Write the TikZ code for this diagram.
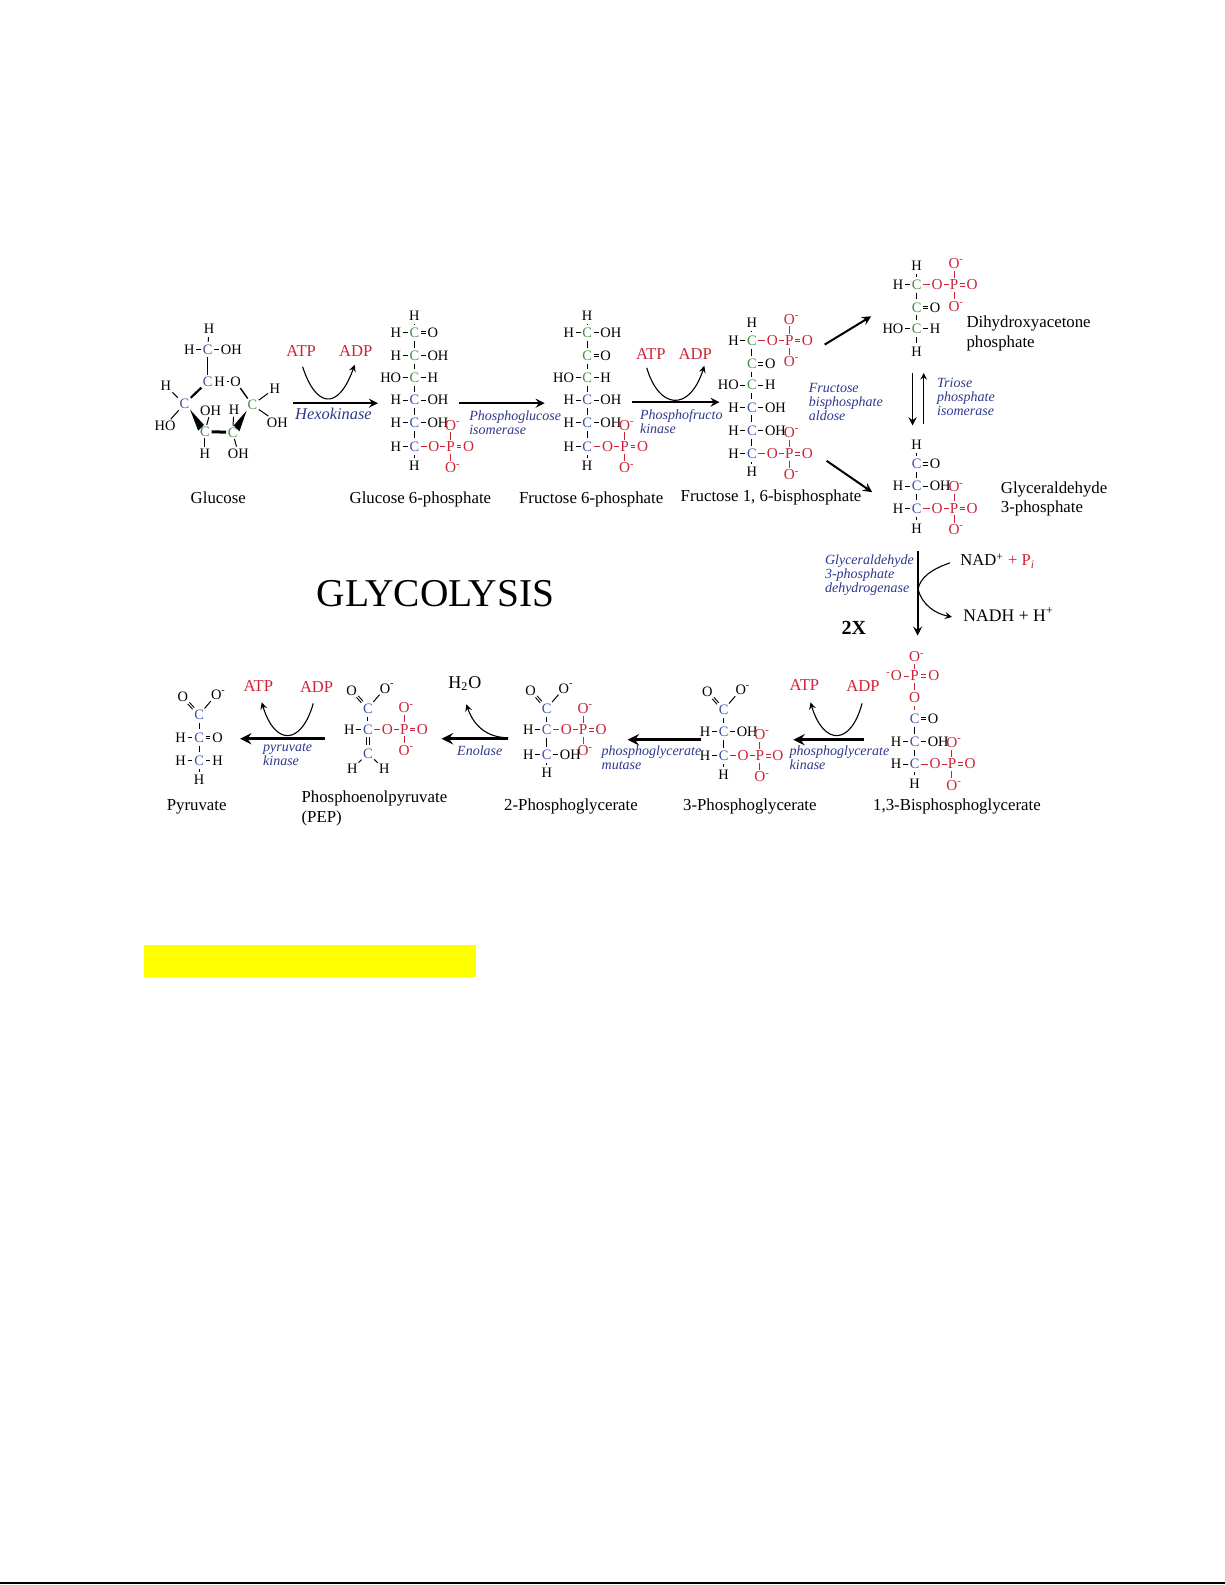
\documentclass[tikz,border=0pt]{standalone}
\usepackage{xcolor}
\usepackage{fontspec}
\setmainfont{Liberation Serif}

\definecolor{atomgreen}{RGB}{65,140,70}
\definecolor{atomblue}{RGB}{60,80,170}
\definecolor{atomred}{RGB}{205,35,55}
\definecolor{enzymeblue}{RGB}{45,55,140}
\definecolor{markyellow}{RGB}{255,255,0}

\tikzset{
	atom/.style={font=\fontsize{7.2}{8}\selectfont, inner sep=0.3pt, text height=4.8pt, text depth=0pt},
	redatom/.style={atom, font=\fontsize{7.6}{8}\selectfont, text=atomred},
	bond/.style={line width=0.5pt, shorten >=0.4pt, shorten <=0.4pt},
	vbond/.style={bond, shorten >=1.2pt, shorten <=1.2pt},
	compound/.style={font=\fontsize{8.4}{9.6}\selectfont, inner sep=0pt, align=left},
	enzyme/.style={font=\fontsize{7}{6.9}\selectfont\itshape, text=enzymeblue, inner sep=0pt, anchor=west, align=left},
	cofactor/.style={font=\fontsize{8.3}{9}\selectfont, text=atomred, inner sep=0pt},
	rxn/.style={-stealth, line width=1pt},
	heavyrxn/.style={-stealth, line width=1.5pt},
	swing/.style={-stealth, line width=0.55pt}
}

\newcommand{\minusO}{O\rlap{\textsuperscript{-}}}
% double bond: colour, two nodes, canvas offset
\newcommand{\dbl}[5]{
	\draw[bond, #1, line width=0.45pt, transform canvas={shift={(#4,#5)}}] (#2) -- (#3);
	\draw[bond, #1, line width=0.45pt, transform canvas={shift={(-#4,-#5)}}] (#2) -- (#3);
}
\newcommand{\carbon}[4]{\node[atom, text=#4] (#1) at (#2,#3) {C};}
\newcommand{\subL}[2]{\node[atom, anchor=base east] (#1L) at ([xshift=-3.2pt]#1.base west) {#2}; \draw[bond] (#1L) -- (#1);}
\newcommand{\subR}[2]{\node[atom, anchor=base west] (#1R) at ([xshift=3.2pt]#1.base east) {#2}; \draw[bond] (#1R) -- (#1);}
\newcommand{\subO}[1]{\node[atom, anchor=base west] (#1R) at ([xshift=3.2pt]#1.base east) {O}; \dbl{black}{#1R}{#1}{0pt}{0.6pt}}
\newcommand{\capH}[4]{\node[atom] (#1) at (#2,#3) {H}; \draw[vbond] (#1) -- (#4);}
% phosphate on carbon #1, with P at (#2,#3)
\newcommand{\phos}[3]{
	\node[redatom] (#1P) at (#2,#3) {P};
	\node[redatom] (#1O) at ([xshift=-8.4pt]#1P.center) {O};
	\node[redatom] (#1E) at ([xshift=9pt]#1P.center) {O};
	\node[redatom] (#1U) at ([yshift=10.6pt]#1P.center) {\minusO};
	\node[redatom] (#1D) at ([yshift=-10.6pt]#1P.center) {\minusO};
	\draw[bond, atomred] (#1) -- (#1O);
	\draw[bond, atomred, shorten >=0pt, shorten <=0pt] (#1O) -- (#1P);
	\dbl{atomred}{#1P}{#1E}{0pt}{0.6pt}
	\draw[vbond, atomred, shorten >=0.6pt, shorten <=0.6pt] (#1P) -- (#1U);
	\draw[vbond, atomred, shorten >=0.6pt, shorten <=0.6pt] (#1P) -- (#1D);
}
% carboxylate on carbon #1
\newcommand{\carboxy}[1]{
	\node[atom] (#1O) at ([shift={(-16,-18)}]#1.center) {O};
	\node[atom] (#1M) at ([shift={(17,-20)}]#1.center) {\minusO};
	\dbl{black}{#1O}{#1}{0.42pt}{0.38pt}
	\draw[bond] (#1M) -- (#1);
}

\begin{document}
\begin{tikzpicture}[x=0.505pt, y=-0.505pt]
	\useasboundingbox (0,0) rectangle (1212,1568.4);

	%Glucose
	\carbon{gluSix}{205.5}{346.3}{atomblue}
	\subL{gluSix}{H} \subR{gluSix}{OH}
	\capH{gluSixH}{206.8}{325.5}{gluSix}
	\carbon{gluFive}{205.5}{377.6}{atomblue}
	\node[atom, anchor=base west] (gluFiveH) at (gluFive.base east) {H};
	\node[atom] (gluRingO) at (233.2,377.6) {O};
	\carbon{gluOne}{249.7}{400.7}{atomgreen}
	\carbon{gluFour}{182.4}{399.7}{atomblue}
	\carbon{gluThree}{202.8}{427.1}{atomgreen}
	\carbon{gluTwo}{230.2}{427.8}{atomgreen}
	\node[atom] (gluOneH) at (272,384.2) {H};
	\node[atom] (gluOneOH) at (274.4,417.9) {OH};
	\node[atom] (gluFourH) at (164.2,382) {H};
	\node[atom] (gluFourHO) at (163.3,421.2) {HO};
	\node[atom] (gluThreeOH) at (208.4,406.3) {OH};
	\node[atom] (gluThreeH) at (202.8,448.5) {H};
	\node[atom] (gluTwoH) at (231.5,405.7) {H};
	\node[atom] (gluTwoOH) at (235.8,448.5) {OH};
	\draw[bond] (gluSix) -- (gluFive);
	\draw[bond] (gluFiveH) -- (gluRingO);
	\draw[bond, line width=0.7pt] (gluRingO) -- (gluOne);
	\draw[bond, line width=1.1pt] (gluFive) -- (gluFour);
	\draw[bond, line width=1.5pt] (gluThree) -- (gluTwo);
	\fill (gluFour.south east) -- ([shift={(-0.5pt,0.5pt)}]gluThree.north) -- ([shift={(-0.5pt,0.5pt)}]gluThree.west) -- cycle;
	\fill (gluOne.south west) -- ([shift={(0.5pt,0.5pt)}]gluTwo.north) -- ([shift={(0.5pt,0.5pt)}]gluTwo.east) -- cycle;
	\foreach \a/\b in {gluOne/gluOneH, gluOne/gluOneOH, gluFour/gluFourH, gluFour/gluFourHO, gluThree/gluThreeOH, gluThree/gluThreeH, gluTwo/gluTwoH, gluTwo/gluTwoOH}
		\draw[bond] (\a) -- (\b);
	\node[compound] (gluName) at (216,493) {Glucose};

	%Hexokinase step
	\coordinate (hexIn) at (290,399);
	\coordinate (hexOut) at (374,399);
	\node[cofactor] (hexATP) at (298,347) {ATP};
	\node[cofactor] (hexADP) at (352,347) {ADP};
	\coordinate (hexFrom) at (299.5,363);
	\coordinate (hexTo) at (351,361);
	\draw[rxn] (hexIn) -- (hexOut);
	\draw[swing] (hexFrom) .. controls (312,402) and (334,408) .. (hexTo);
	\node[enzyme, font=\fontsize{8.2}{9}\selectfont\itshape, anchor=center] (hexName) at (330,410) {Hexokinase};

	%Glucose 6-phosphate
	\carbon{gsixA}{410}{329}{atomgreen} \subL{gsixA}{H} \subO{gsixA}
	\carbon{gsixB}{410}{352}{atomgreen} \subL{gsixB}{H} \subR{gsixB}{OH}
	\carbon{gsixC}{410}{373.5}{atomgreen} \subL{gsixC}{HO} \subR{gsixC}{H}
	\carbon{gsixD}{410}{396}{atomblue} \subL{gsixD}{H} \subR{gsixD}{OH}
	\carbon{gsixE}{410}{418.5}{atomblue} \subL{gsixE}{H} \subR{gsixE}{OH}
	\carbon{gsixF}{410}{442}{atomblue} \subL{gsixF}{H}
	\phos{gsixF}{446}{442}
	\capH{gsixTop}{410}{312}{gsixA}
	\capH{gsixEnd}{410}{461}{gsixF}
	\foreach \a/\b in {gsixA/gsixB, gsixB/gsixC, gsixC/gsixD, gsixD/gsixE, gsixE/gsixF}
		\draw[vbond] (\a) -- (\b);
	\node[compound] (gsixName) at (416,494) {Glucose 6-phosphate};

	%Isomerase step
	\coordinate (isoIn) at (454,399);
	\coordinate (isoOut) at (539,399);
	\draw[rxn] (isoIn) -- (isoOut);
	\node[enzyme] (isoName) at (464,418) {Phosphoglucose\\isomerase};

	%Fructose 6-phosphate
	\carbon{fsixA}{581}{329}{atomgreen} \subL{fsixA}{H} \subR{fsixA}{OH}
	\carbon{fsixB}{581}{352}{atomgreen} \subO{fsixB}
	\carbon{fsixC}{581}{373.5}{atomgreen} \subL{fsixC}{HO} \subR{fsixC}{H}
	\carbon{fsixD}{581}{396}{atomblue} \subL{fsixD}{H} \subR{fsixD}{OH}
	\carbon{fsixE}{581}{418.5}{atomblue} \subL{fsixE}{H} \subR{fsixE}{OH}
	\carbon{fsixF}{581}{442}{atomblue} \subL{fsixF}{H}
	\phos{fsixF}{618}{442}
	\capH{fsixTop}{581}{312}{fsixA}
	\capH{fsixEnd}{581}{461}{fsixF}
	\foreach \a/\b in {fsixA/fsixB, fsixB/fsixC, fsixC/fsixD, fsixD/fsixE, fsixE/fsixF}
		\draw[vbond] (\a) -- (\b);
	\node[compound] (fsixName) at (585,494) {Fructose 6-phosphate};

	%Phosphofructokinase step
	\coordinate (pfkIn) at (625,398);
	\coordinate (pfkOut) at (712,398);
	\node[cofactor] (pfkATP) at (644,350) {ATP};
	\node[cofactor] (pfkADP) at (688,350) {ADP};
	\coordinate (pfkFrom) at (640,364);
	\coordinate (pfkTo) at (697,362);
	\draw[rxn] (pfkIn) -- (pfkOut);
	\draw[swing] (pfkFrom) .. controls (652,405) and (682,408) .. (pfkTo);
	\node[enzyme] (pfkName) at (633,417) {Phosphofructo\\kinase};

	%Fructose 1, 6-bisphosphate
	\carbon{fbpA}{744}{337}{atomgreen} \subL{fbpA}{H}
	\phos{fbpA}{781}{337}
	\carbon{fbpB}{744}{360}{atomgreen} \subO{fbpB}
	\carbon{fbpC}{744}{381}{atomgreen} \subL{fbpC}{HO} \subR{fbpC}{H}
	\carbon{fbpD}{744}{403}{atomblue} \subL{fbpD}{H} \subR{fbpD}{OH}
	\carbon{fbpE}{744}{426}{atomblue} \subL{fbpE}{H} \subR{fbpE}{OH}
	\carbon{fbpF}{744}{449}{atomblue} \subL{fbpF}{H}
	\phos{fbpF}{781}{449}
	\capH{fbpTop}{744}{319}{fbpA}
	\capH{fbpEnd}{744}{467}{fbpF}
	\foreach \a/\b in {fbpA/fbpB, fbpB/fbpC, fbpC/fbpD, fbpD/fbpE, fbpE/fbpF}
		\draw[vbond] (\a) -- (\b);
	\node[compound] (fbpName) at (763,492.5) {Fructose 1, 6-bisphosphate};

	%Aldolase split
	\coordinate (splitA) at (816,341);
	\coordinate (splitB) at (862,313);
	\coordinate (splitC) at (818,456);
	\coordinate (splitD) at (863,487);
	\draw[rxn] (splitA) -- (splitB);
	\draw[rxn] (splitC) -- (splitD);
	\node[enzyme] (aldName) at (800,397.5) {Fructose\\bisphosphate\\aldose};

	%Dihydroxyacetone phosphate
	\carbon{dhaA}{907}{282}{atomgreen} \subL{dhaA}{H}
	\phos{dhaA}{944}{282}
	\carbon{dhaB}{907}{304}{atomgreen} \subO{dhaB}
	\carbon{dhaC}{907}{325}{atomgreen} \subL{dhaC}{HO} \subR{dhaC}{H}
	\capH{dhaTop}{907}{263}{dhaA}
	\capH{dhaEnd}{907}{348}{dhaC}
	\foreach \a/\b in {dhaA/dhaB, dhaB/dhaC}
		\draw[vbond] (\a) -- (\b);
	\node[compound, anchor=west] (dhaName) at (956,330) {Dihydroxyacetone\\phosphate};

	%Triose phosphate isomerase
	\coordinate (tpiA) at (903,369);
	\coordinate (tpiB) at (903,421);
	\coordinate (tpiC) at (914,420);
	\coordinate (tpiD) at (914,369);
	\draw[rxn, line width=0.8pt] (tpiA) -- (tpiB);
	\draw[rxn, line width=0.5pt] (tpiC) -- (tpiD);
	\node[enzyme] (tpiName) at (927,392.5) {Triose\\phosphate\\isomerase};

	%Glyceraldehyde 3-phosphate
	\carbon{gapA}{907}{459}{atomblue} \subO{gapA}
	\carbon{gapB}{907}{481}{atomblue} \subL{gapB}{H} \subR{gapB}{OH}
	\carbon{gapC}{907}{503}{atomblue} \subL{gapC}{H}
	\phos{gapC}{944}{503}
	\capH{gapTop}{907}{440}{gapA}
	\capH{gapEnd}{907}{523}{gapC}
	\foreach \a/\b in {gapA/gapB, gapB/gapC}
		\draw[vbond] (\a) -- (\b);
	\node[compound, anchor=west] (gapName) at (990,494) {Glyceraldehyde\\3-phosphate};

	%Dehydrogenase step
	\coordinate (gdhIn) at (908,545);
	\coordinate (gdhOut) at (908,629);
	\coordinate (nadIn) at (940,557);
	\coordinate (nadMid) at (908.5,583);
	\coordinate (nadOut) at (942,610.5);
	\draw[rxn] (gdhIn) -- (gdhOut);
	\draw[line width=0.55pt] (nadIn) .. controls (922,563) and (910,572) .. (nadMid);
	\draw[swing] (nadMid) .. controls (912,598) and (925,607) .. (nadOut);
	\node[enzyme] (gdhName) at (816,569) {Glyceraldehyde\\3-phosphate\\dehydrogenase};
	\node[cofactor, text=black, anchor=west] (nadName) at (950,555) {NAD\textsuperscript{+} {\color{atomred} + P\textsubscript{\textit{i}}}};
	\node[cofactor, font=\fontsize{8.8}{9}\selectfont, text=black, anchor=west] (nadhName) at (953,608) {NADH + H\textsuperscript{+}};
	\node[font=\fontsize{10}{11}\selectfont\bfseries, inner sep=0pt] (twoX) at (845,621) {2X};
	\node[font=\fontsize{19.7}{20}\selectfont, inner sep=0pt] (title) at (431,587) {GLYCOLYSIS};

	%1,3-Bisphosphoglycerate
	\node[redatom] (bpgP) at (905,669) {P};
	\node[redatom] (bpgPU) at (905,650) {\minusO};
	\node[redatom] (bpgPL) at (887,669) {\llap{\textsuperscript{-}}O};
	\node[redatom] (bpgPR) at (924,669) {O};
	\node[redatom] (bpgPD) at (905,690) {O};
	\draw[vbond, atomred, shorten >=0.6pt, shorten <=0.6pt] (bpgP) -- (bpgPU);
	\draw[vbond, atomred, shorten >=0.6pt, shorten <=0.6pt] (bpgP) -- (bpgPD);
	\draw[bond, atomred] (bpgPL) -- (bpgP);
	\dbl{atomred}{bpgP}{bpgPR}{0pt}{0.6pt}
	\carbon{bpgA}{905}{711}{atomblue} \subO{bpgA}
	\draw[vbond, atomred] (bpgPD) -- (bpgA);
	\carbon{bpgB}{905}{734}{atomblue} \subL{bpgB}{H} \subR{bpgB}{OH}
	\carbon{bpgC}{905}{756}{atomblue} \subL{bpgC}{H}
	\phos{bpgC}{942}{756}
	\capH{bpgEnd}{905}{775}{bpgC}
	\foreach \a/\b in {bpgA/bpgB, bpgB/bpgC}
		\draw[vbond] (\a) -- (\b);
	\node[compound] (bpgName) at (947,798) {1,3-Bisphosphoglycerate};

	%Phosphoglycerate kinase step
	\coordinate (pgkIn) at (855,732);
	\coordinate (pgkOut) at (785,732);
	\node[cofactor] (pgkATP) at (796,678) {ATP};
	\node[cofactor] (pgkADP) at (854,679) {ADP};
	\coordinate (pgkFrom) at (853,696);
	\coordinate (pgkTo) at (802,695);
	\draw[heavyrxn] (pgkIn) -- (pgkOut);
	\draw[swing] (pgkFrom) .. controls (842,738) and (815,738) .. (pgkTo);
	\node[enzyme] (pgkName) at (781,749.5) {phosphoglycerate\\kinase};

	%3-Phosphoglycerate
	\carbon{pgtA}{716}{702.5}{atomblue} \carboxy{pgtA}
	\carbon{pgtB}{716}{724}{atomblue} \subL{pgtB}{H} \subR{pgtB}{OH}
	\carbon{pgtC}{716}{748}{atomblue} \subL{pgtC}{H}
	\phos{pgtC}{752}{748}
	\capH{pgtEnd}{716}{767}{pgtC}
	\foreach \a/\b in {pgtA/pgtB, pgtB/pgtC}
		\draw[vbond] (\a) -- (\b);
	\node[compound] (pgtName) at (742,798) {3-Phosphoglycerate};

	%Mutase step
	\coordinate (mutIn) at (694,732);
	\coordinate (mutOut) at (621,732);
	\draw[heavyrxn] (mutIn) -- (mutOut);
	\node[enzyme] (mutName) at (595,749.5) {phosphoglycerate\\mutase};

	%2-Phosphoglycerate
	\carbon{pgdA}{541}{701}{atomblue} \carboxy{pgdA}
	\carbon{pgdB}{541}{722.3}{atomblue} \subL{pgdB}{H}
	\phos{pgdB}{577}{722.3}
	\carbon{pgdC}{541}{747}{atomblue} \subL{pgdC}{H} \subR{pgdC}{OH}
	\capH{pgdEnd}{541}{765}{pgdC}
	\foreach \a/\b in {pgdA/pgdB, pgdB/pgdC}
		\draw[vbond] (\a) -- (\b);
	\node[compound] (pgdName) at (565,798) {2-Phosphoglycerate};

	%Enolase step
	\coordinate (enoIn) at (503,731);
	\coordinate (enoOut) at (437,731);
	\coordinate (enoFrom) at (503,730);
	\coordinate (enoTo) at (461.5,697);
	\draw[heavyrxn] (enoIn) -- (enoOut);
	\draw[swing] (enoFrom) .. controls (480,730) and (468,716) .. (enoTo);
	\node[font=\fontsize{9}{10}\selectfont, inner sep=0pt] (waterName) at (460,676) {H\textsubscript{2}O};
	\node[enzyme] (enoName) at (452,743) {Enolase};

	%Phosphoenolpyruvate
	\carbon{pepA}{364}{701}{atomblue} \carboxy{pepA}
	\carbon{pepB}{364}{721.6}{atomblue} \subL{pepB}{H}
	\phos{pepB}{400}{721.6}
	\carbon{pepC}{364}{745.4}{atomblue}
	\node[atom] (pepCL) at (348.6,761) {H};
	\node[atom] (pepCR) at (380.3,761) {H};
	\draw[vbond] (pepA) -- (pepB);
	\dbl{black, vbond}{pepB}{pepC}{0.6pt}{0pt}
	\draw[bond] (pepC) -- (pepCL);
	\draw[bond] (pepC) -- (pepCR);
	\node[compound, anchor=west] (pepName) at (298,800) {Phosphoenolpyruvate\\(PEP)};

	%Pyruvate kinase step
	\coordinate (pykIn) at (321.6,731);
	\coordinate (pykOut) at (237.5,731);
	\node[cofactor] (pykATP) at (255.6,678.4) {ATP};
	\node[cofactor] (pykADP) at (313.3,679.4) {ADP};
	\coordinate (pykFrom) at (310,696);
	\coordinate (pykTo) at (259,695);
	\draw[heavyrxn] (pykIn) -- (pykOut);
	\draw[swing] (pykFrom) .. controls (298,738) and (272,738) .. (pykTo);
	\node[enzyme] (pykName) at (260,746.5) {pyruvate\\kinase};

	%Pyruvate
	\carbon{pyrA}{197}{707.4}{atomblue} \carboxy{pyrA}
	\carbon{pyrB}{197}{729.8}{atomblue} \subL{pyrB}{H} \subO{pyrB}
	\carbon{pyrC}{197}{752.6}{atomblue} \subL{pyrC}{H} \subR{pyrC}{H}
	\capH{pyrEnd}{197}{771.8}{pyrC}
	\foreach \a/\b in {pyrA/pyrB, pyrB/pyrC}
		\draw[vbond] (\a) -- (\b);
	\node[compound] (pyrName) at (194.6,798) {Pyruvate};

	%Page marks
	\fill[markyellow] (142,935) rectangle (471,967);
	\fill[black] (0,1565.5) rectangle (1212,1567);
\end{tikzpicture}
\end{document}
